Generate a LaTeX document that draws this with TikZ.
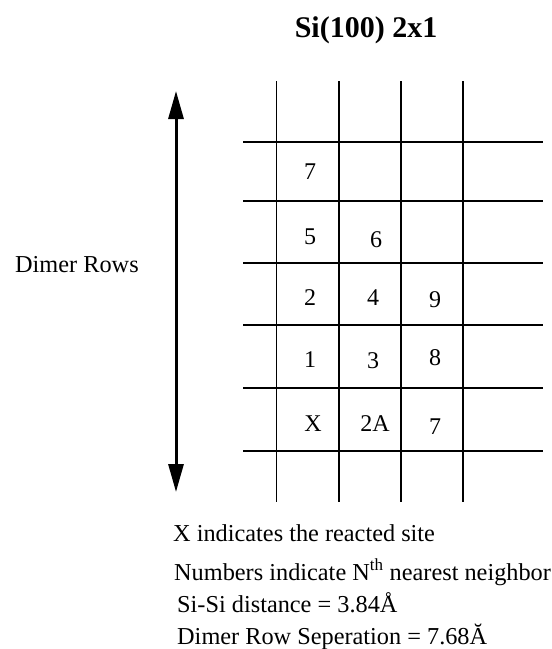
\documentclass[tikz,border=0pt]{standalone}
\usepackage{fontspec}
\setmainfont{Liberation Serif}
\usetikzlibrary{arrows.meta}
\begin{document}
\begin{tikzpicture}[x=1pt,y=-1pt,
  gridline/.style={line width=1.5pt, black},
  cell/.style={font=\fontsize{24}{28}\selectfont, inner sep=0pt, anchor=center},
  body/.style={font=\fontsize{24.3}{28}\selectfont, inner sep=0pt, anchor=base west},
  titletext/.style={font=\fontsize{30}{36}\selectfont\bfseries, inner sep=0pt, anchor=base},
  bigarrow/.style={line width=3pt, {Triangle[width=15pt,length=28pt]}-{Triangle[width=15pt,length=28pt]}}]
\useasboundingbox (0,0) rectangle (552,649);
\fill[white] (0,0) rectangle (552,649);
% title
\node[titletext] (title) at (366,37) {Si(100) 2x1};
% grid
\foreach \x [count=\i] in {276.5,339,401,463} {
  \coordinate (vt\i) at (\x,81);
  \coordinate (vb\i) at (\x,502);
  \draw[gridline] (vt\i) -- (vb\i);
}
\foreach \y [count=\j] in {142,201,263,325,388,451} {
  \coordinate (hl\j) at (243,\y);
  \coordinate (hr\j) at (543,\y);
  \draw[gridline] (hl\j) -- (hr\j);
}
% cell labels
\node[cell] (c7a) at (310,172) {7};
\node[cell] (c5) at (310,237) {5};
\node[cell] (c6) at (376,240) {6};
\node[cell] (c2) at (310,298) {2};
\node[cell] (c4) at (373,298) {4};
\node[cell] (c9) at (435,300) {9};
\node[cell] (c1) at (310,360) {1};
\node[cell] (c3) at (373,361) {3};
\node[cell] (c8) at (435,358) {8};
\node[cell] (cX) at (313,424) {X};
\node[cell] (c2A) at (375,424) {2A};
\node[cell] (c7b) at (435,427) {7};
% arrow
\coordinate (atop) at (176,91);
\coordinate (abot) at (176,492);
\draw[bigarrow] (atop) -- (abot);
\node[body] (dimer) at (15,272) {Dimer Rows};
% notes
\node[body] (n1) at (173,541) {X indicates the reacted site};
\node[body] (n2) at (174,580) {Numbers indicate N\textsuperscript{th} nearest neighbor};
\node[body] (n3) at (177,612) {Si-Si distance = 3.84Å};
\node[body] (n4) at (177,644) {Dimer Row Seperation = 7.68Ă};
\end{tikzpicture}
\end{document}
